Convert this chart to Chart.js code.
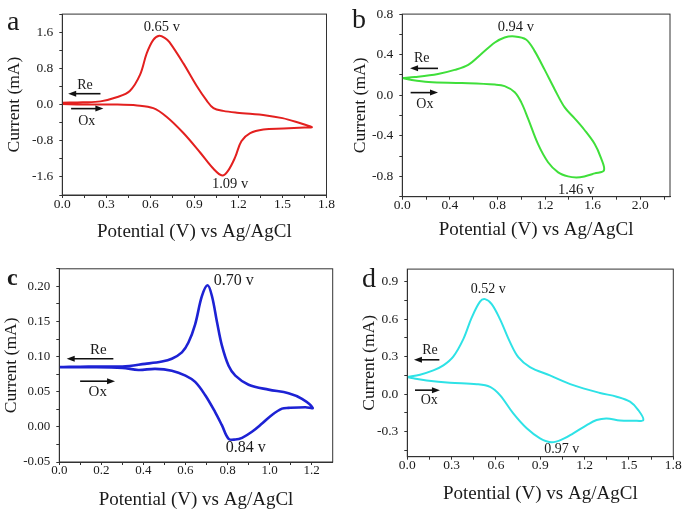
<!DOCTYPE html>
<html>
<head>
<meta charset="utf-8">
<script src="https://cdn.jsdelivr.net/npm/chart.js@4.4.1/dist/chart.umd.min.js"></script>
<style>
  html, body { margin: 0; padding: 0; background: #fff; }
  #figura { position: relative; width: 685px; height: 513px; }
  canvas { position: absolute; }
</style>
</head>
<body>
<div id="figura">
  <canvas id="grafico-a" width="342" height="250" style="left:0;top:0"></canvas>
  <canvas id="grafico-b" width="343" height="250" style="left:342px;top:0"></canvas>
  <canvas id="grafico-c" width="342" height="258" style="left:0;top:255px"></canvas>
  <canvas id="grafico-d" width="343" height="258" style="left:342px;top:255px"></canvas>
</div>
<script>
// Painel a - curva vermelha
const aPotencial = [0, 0.14, 0.26, 0.37, 0.46, 0.53, 0.575, 0.62, 0.66, 0.70, 0.73, 0.825, 0.916, 0.984, 1.03, 1.096, 1.19, 1.39, 1.50, 1.59, 1.70,
                    1.65, 1.507, 1.37, 1.28, 1.22, 1.177, 1.13, 1.09, 1.03, 0.939, 0.825, 0.71, 0.62, 0.51, 0.37, 0.14, 0];
const aCorrente = [0.04, 0.05, 0.07, 0.16, 0.30, 0.66, 1.13, 1.43, 1.52, 1.47, 1.38, 0.91, 0.41, 0.086, -0.08, -0.14, -0.18, -0.24, -0.30, -0.38, -0.50,
                   -0.51, -0.53, -0.55, -0.63, -0.81, -1.17, -1.46, -1.57, -1.42, -1.06, -0.63, -0.27, -0.08, -0.02, 0.0, 0.0, 0.01];

// Painel b - curva verde
const bPotencial = [0, 0.107, 0.30, 0.44, 0.554, 0.666, 0.778, 0.86, 0.945, 1.04, 1.11, 1.197, 1.28, 1.365, 1.45, 1.53, 1.617, 1.667, 1.695,
                    1.617, 1.53, 1.463, 1.393, 1.31, 1.225, 1.14, 1.057, 1.0, 0.945, 0.86, 0.778, 0.5, 0.22, 0.08, 0];
const bCorrente = [0.17, 0.18, 0.21, 0.25, 0.30, 0.41, 0.52, 0.57, 0.58, 0.55, 0.44, 0.25, 0.06, -0.12, -0.23, -0.34, -0.48, -0.61, -0.74,
                   -0.77, -0.80, -0.81, -0.80, -0.76, -0.66, -0.48, -0.23, -0.07, 0.03, 0.09, 0.105, 0.12, 0.13, 0.15, 0.17];

// Painel c - curva azul
const cPotencial = [0, 0.138, 0.30, 0.408, 0.488, 0.535, 0.583, 0.614, 0.646, 0.678, 0.705, 0.726, 0.75, 0.773, 0.805, 0.837, 0.90, 0.995, 1.09, 1.154, 1.205,
                    1.17, 1.09, 1.059, 1.011, 0.964, 0.916, 0.869, 0.837, 0.805, 0.773, 0.741, 0.694, 0.646, 0.60, 0.535, 0.456, 0.376, 0.30, 0.138, 0];
const cCorrente = [0.085, 0.086, 0.086, 0.0897, 0.093, 0.097, 0.106, 0.12, 0.146, 0.186, 0.2016, 0.186, 0.149, 0.116, 0.087, 0.073, 0.060, 0.053, 0.048, 0.040, 0.027,
                   0.028, 0.027, 0.026, 0.017, 0.0047, -0.007, -0.0156, -0.018, -0.017, 0.0024, 0.021, 0.045, 0.064, 0.073, 0.080, 0.0826, 0.081, 0.084, 0.085, 0.085];

// Painel d - curva ciano
const dPotencial = [0, 0.086, 0.176, 0.244, 0.311, 0.379, 0.435, 0.492, 0.526, 0.571, 0.627, 0.695, 0.751, 0.83, 0.965, 1.123, 1.304, 1.417, 1.507, 1.563, 1.597,
                    1.529, 1.439, 1.349, 1.281, 1.214, 1.123, 1.055, 0.977, 0.898, 0.808, 0.717, 0.627, 0.56, 0.47, 0.289, 0.131, 0.041, 0];
const dCorrente = [0.137, 0.156, 0.19, 0.23, 0.30, 0.44, 0.61, 0.74, 0.76, 0.72, 0.60, 0.416, 0.296, 0.217, 0.15, 0.072, 0.01, -0.02, -0.06, -0.127, -0.207,
                   -0.212, -0.21, -0.194, -0.207, -0.247, -0.313, -0.358, -0.385, -0.353, -0.273, -0.154, -0.008, 0.058, 0.08, 0.092, 0.11, 0.127, 0.137];

// Marcas dos eixos (principais com rótulo, secundárias sem)
const aTicksX = [0, 0.3, 0.6, 0.9, 1.2, 1.5, 1.8];
const aMenoresX = [0.15, 0.45, 0.75, 1.05, 1.35, 1.65];
const aTicksY = [-1.6, -0.8, 0, 0.8, 1.6];
const aMenoresY = [-2.0, -1.2, -0.4, 0.4, 1.2, 2.0];

const bTicksX = [0, 0.4, 0.8, 1.2, 1.6, 2.0];
const bMenoresX = [0.2, 0.6, 1.0, 1.4, 1.8, 2.2];
const bTicksY = [-0.8, -0.4, 0, 0.4, 0.8];
const bMenoresY = [-1.0, -0.6, -0.2, 0.2, 0.6];

const cTicksX = [0, 0.2, 0.4, 0.6, 0.8, 1.0, 1.2];
const cMenoresX = [0.1, 0.3, 0.5, 0.7, 0.9, 1.1];
const cTicksY = [-0.05, 0, 0.05, 0.10, 0.15, 0.20];
const cMenoresY = [-0.025, 0.025, 0.075, 0.125, 0.175, 0.225];

const dTicksX = [0, 0.3, 0.6, 0.9, 1.2, 1.5, 1.8];
const dMenoresX = [0.15, 0.45, 0.75, 1.05, 1.35, 1.65];
const dTicksY = [-0.3, 0, 0.3, 0.6, 0.9];
const dMenoresY = [-0.45, -0.15, 0.15, 0.45, 0.75];

const FONTE = "'Liberation Serif', 'Times New Roman', serif";
const COR_EIXO = "#333";
const COR_TEXTO = "#1a1a1a";

// Desenha moldura, letra do painel, rótulos dos picos e as setas Re/Ox
const notasPlugin = {
    id: "cvNotas",
    afterDraw(chart, args, o) {
        const { ctx, chartArea: a } = chart;
        const x = chart.scales.x, y = chart.scales.y;
        ctx.save();
        ctx.strokeStyle = COR_EIXO;
        ctx.lineWidth = 1;
        ctx.strokeRect(a.left, a.top, a.right - a.left, a.bottom - a.top);

        ctx.fillStyle = COR_TEXTO;
        ctx.font = o.letra.fonte;
        ctx.textAlign = "left";
        ctx.textBaseline = "alphabetic";
        ctx.fillText(o.letra.texto, o.letra.px, o.letra.py);

        ctx.textAlign = "center";
        ctx.textBaseline = "middle";
        ctx.font = o.fontePico;
        o.picos.forEach(p => ctx.fillText(p.texto, x.getPixelForValue(p.x), y.getPixelForValue(p.y)));

        ctx.font = o.fonteSeta;
        o.setas.forEach(s => {
            ctx.fillText(s.texto, x.getPixelForValue(s.tx), y.getPixelForValue(s.ty));
            const x1 = x.getPixelForValue(s.de), x2 = x.getPixelForValue(s.ate), yy = y.getPixelForValue(s.y);
            const dir = Math.sign(x2 - x1);
            ctx.strokeStyle = "#111";
            ctx.lineWidth = 1.6;
            ctx.beginPath();
            ctx.moveTo(x1, yy);
            ctx.lineTo(x2 - dir * 5, yy);
            ctx.stroke();
            ctx.fillStyle = "#111";
            ctx.beginPath();
            ctx.moveTo(x2, yy);
            ctx.lineTo(x2 - dir * 8, yy - 3);
            ctx.lineTo(x2 - dir * 8, yy + 3);
            ctx.closePath();
            ctx.fill();
            ctx.fillStyle = COR_TEXTO;
        });
        ctx.restore();
    }
};

function perto(lista, v) {
    return lista.some(t => Math.abs(t - v) < 1e-9);
}

function criarPainel(id, p) {
    const canvas = document.getElementById(id);
    const W = canvas.width, H = canvas.height;
    const pontos = p.pot.map((v, i) => ({ x: v, y: p.cur[i] }));
    const eixoComum = {
        type: "linear",
        border: { display: true, color: COR_EIXO, width: 1 },
        grid: { display: true, drawOnChartArea: false, drawTicks: true, tickLength: 3, color: COR_EIXO, lineWidth: 1 }
    };
    new Chart(canvas, {
        type: "scatter",
        data: {
            datasets: [{
                data: pontos,
                showLine: true,
                borderColor: p.cor,
                borderWidth: p.espessura,
                pointRadius: 0,
                tension: 0.35,
                fill: false
            }]
        },
        options: {
            responsive: false,
            animation: false,
            layout: { padding: { top: p.area.top, right: W - p.area.right, left: 0, bottom: 0 } },
            plugins: { legend: { display: false }, tooltip: { enabled: false }, cvNotas: p.notas },
            scales: {
                x: Object.assign({}, eixoComum, {
                    min: p.xMin, max: p.xMax,
                    afterBuildTicks: s => { s.ticks = p.ticksX.concat(p.menoresX).sort((m, n) => m - n).map(v => ({ value: v })); },
                    afterFit: s => { s.height = H - p.area.bottom; },
                    ticks: {
                        autoSkip: false, maxRotation: 0, padding: -2, color: COR_TEXTO,
                        font: { family: FONTE, size: p.fonteTick },
                        callback: v => perto(p.ticksX, v) ? v.toFixed(1) : ""
                    },
                    title: { display: true, text: "Potential (V) vs Ag/AgCl", color: COR_TEXTO,
                             font: { family: FONTE, size: 19 }, padding: { top: 0, bottom: p.padTituloX } }
                }),
                y: Object.assign({}, eixoComum, {
                    min: p.yMin, max: p.yMax,
                    afterBuildTicks: s => { s.ticks = p.ticksY.concat(p.menoresY).sort((m, n) => m - n).map(v => ({ value: v })); },
                    afterFit: s => { s.width = p.area.left; },
                    ticks: {
                        autoSkip: false, padding: 6, color: COR_TEXTO,
                        font: { family: FONTE, size: p.fonteTick },
                        callback: v => perto(p.ticksY, v) ? v.toFixed(p.casasY) : ""
                    },
                    title: { display: true, text: "Current (mA)", color: COR_TEXTO,
                             font: { family: FONTE, size: 17.5 }, padding: { top: p.padTituloY, bottom: 0 } }
                })
            }
        },
        plugins: [notasPlugin]
    });
}

criarPainel("grafico-a", {
    pot: aPotencial, cur: aCorrente, cor: "#e3201f", espessura: 2,
    xMin: 0, xMax: 1.8, yMin: -2.0, yMax: 2.0,
    ticksX: aTicksX, menoresX: aMenoresX, ticksY: aTicksY, menoresY: aMenoresY, casasY: 1,
    area: { left: 62.3, top: 9, right: 326.5, bottom: 195 },
    fonteTick: 13.5, padTituloX: 6.6, padTituloY: 3.5,
    notas: {
        letra: { texto: "a", fonte: "28px " + FONTE, px: 7, py: 30 },
        fontePico: "14.5px " + FONTE, fonteSeta: "14px " + FONTE,
        picos: [{ texto: "0.65 v", x: 0.678, y: 1.71 }, { texto: "1.09 v", x: 1.143, y: -1.76 }],
        setas: [
            { texto: "Re", tx: 0.155, ty: 0.42, de: 0.26, ate: 0.04, y: 0.24 },
            { texto: "Ox", tx: 0.167, ty: -0.36, de: 0.06, ate: 0.28, y: -0.09 }
        ]
    }
});

criarPainel("grafico-b", {
    pot: bPotencial, cur: bCorrente, cor: "#3fdf3a", espessura: 2,
    xMin: 0, xMax: 2.25, yMin: -1.0, yMax: 0.8,
    ticksX: bTicksX, menoresX: bMenoresX, ticksY: bTicksY, menoresY: bMenoresY, casasY: 1,
    area: { left: 60.3, top: 8.3, right: 328, bottom: 196.7 },
    fonteTick: 13.5, padTituloX: 8.6, padTituloY: 7.5,
    notas: {
        letra: { texto: "b", fonte: "28px " + FONTE, px: 10, py: 28 },
        fontePico: "14.5px " + FONTE, fonteSeta: "14px " + FONTE,
        picos: [{ texto: "0.94 v", x: 0.954, y: 0.67 }, { texto: "1.46 v", x: 1.46, y: -0.94 }],
        setas: [
            { texto: "Re", tx: 0.163, ty: 0.36, de: 0.30, ate: 0.065, y: 0.265 },
            { texto: "Ox", tx: 0.19, ty: -0.086, de: 0.07, ate: 0.30, y: 0.026 }
        ]
    }
});

criarPainel("grafico-c", {
    pot: cPotencial, cur: cCorrente, cor: "#1d22d4", espessura: 2.6,
    xMin: 0, xMax: 1.3, yMin: -0.05, yMax: 0.225,
    ticksX: cTicksX, menoresX: cMenoresX, ticksY: cTicksY, menoresY: cMenoresY, casasY: 2,
    area: { left: 59.3, top: 12, right: 332.7, bottom: 207 },
    fonteTick: 13, padTituloX: 1.6, padTituloY: 0.5,
    notas: {
        letra: { texto: "c", fonte: "bold 24px " + FONTE, px: 7, py: 30 },
        fontePico: "16px " + FONTE, fonteSeta: "15px " + FONTE,
        picos: [{ texto: "0.70 v", x: 0.829, y: 0.208 }, { texto: "0.84 v", x: 0.886, y: -0.030 }],
        setas: [
            { texto: "Re", tx: 0.186, ty: 0.109, de: 0.257, ate: 0.035, y: 0.097 },
            { texto: "Ox", tx: 0.183, ty: 0.050, de: 0.099, ate: 0.265, y: 0.065 }
        ]
    }
});

criarPainel("grafico-d", {
    pot: dPotencial, cur: dCorrente, cor: "#2ee2e6", espessura: 2,
    xMin: 0, xMax: 1.8, yMin: -0.5, yMax: 1.0,
    ticksX: dTicksX, menoresX: dMenoresX, ticksY: dTicksY, menoresY: dMenoresY, casasY: 1,
    area: { left: 65.3, top: 11.7, right: 331.3, bottom: 201.7 },
    fonteTick: 13.5, padTituloX: 7.6, padTituloY: 16.5,
    notas: {
        letra: { texto: "d", fonte: "28px " + FONTE, px: 20, py: 32 },
        fontePico: "14px " + FONTE, fonteSeta: "14px " + FONTE,
        picos: [{ texto: "0.52 v", x: 0.548, y: 0.84 }, { texto: "0.97 v", x: 1.045, y: -0.44 }],
        setas: [
            { texto: "Re", tx: 0.154, ty: 0.35, de: 0.217, ate: 0.045, y: 0.275 },
            { texto: "Ox", tx: 0.149, ty: -0.053, de: 0.052, ate: 0.221, y: 0.032 }
        ]
    }
});
</script>
</body>
</html>
